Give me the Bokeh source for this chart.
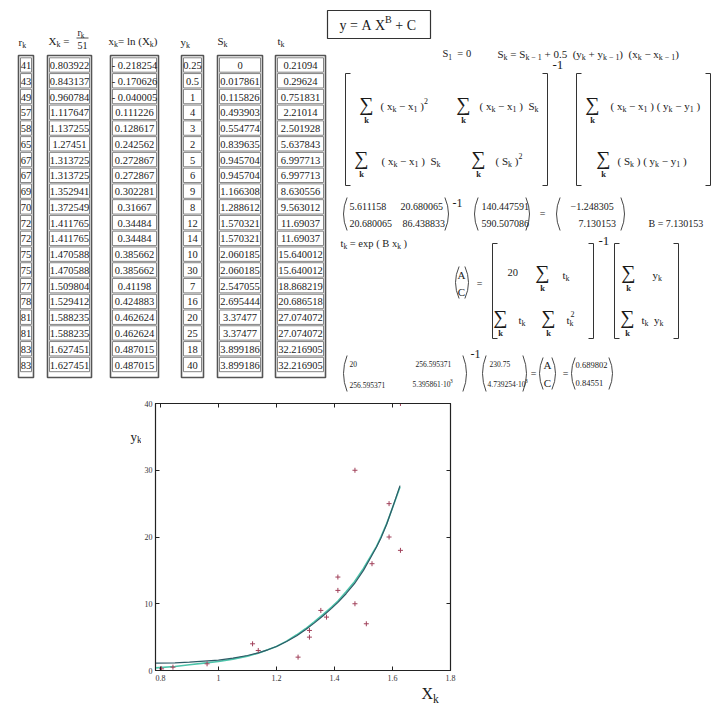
from bokeh.plotting import figure
from bokeh.models import (Range1d, ColumnDataSource, LinearAxis, FixedTicker,
                          NumeralTickFormatter, CustomJSTickFormatter, Spacer)
from bokeh.layouts import column, row
from bokeh.embed import file_html
from bokeh.resources import INLINE
from bokeh.core.properties import value, field

FONT = "Liberation Serif"

# ---------------- data ----------------
r_k = [41, 43, 49, 57, 58, 65, 67, 67, 69, 70, 72, 72, 75, 75, 77, 78, 81, 81, 83, 83]
X_k = ["0.803922", "0.843137", "0.960784", "1.117647", "1.137255", "1.27451", "1.313725",
       "1.313725", "1.352941", "1.372549", "1.411765", "1.411765", "1.470588", "1.470588",
       "1.509804", "1.529412", "1.588235", "1.588235", "1.627451", "1.627451"]
x_k = ["- 0.218254", "- 0.170626", "- 0.040005", "0.111226", "0.128617", "0.242562", "0.272867",
       "0.272867", "0.302281", "0.31667", "0.34484", "0.34484", "0.385662", "0.385662",
       "0.41198", "0.424883", "0.462624", "0.462624", "0.487015", "0.487015"]
y_k = [0.25, 0.5, 1, 4, 3, 2, 5, 6, 9, 8, 12, 14, 10, 30, 7, 16, 20, 25, 18, 40]
S_k = ["0", "0.017861", "0.115826", "0.493903", "0.554774", "0.839635", "0.945704", "0.945704",
       "1.166308", "1.288612", "1.570321", "1.570321", "2.060185", "2.060185", "2.547055",
       "2.695444", "3.37477", "3.37477", "3.899186", "3.899186"]
t_k = ["0.21094", "0.29624", "0.751831", "2.21014", "2.501928", "5.637843", "6.997713",
       "6.997713", "8.630556", "9.563012", "11.69037", "11.69037", "15.640012", "15.640012",
       "18.868219", "20.686518", "27.074072", "27.074072", "32.216905", "32.216905"]

# fitted curves
fit_x = [0.783, 0.85, 0.9, 0.95, 1.0, 1.05, 1.1, 1.137, 1.17, 1.2, 1.235, 1.27, 1.3, 1.33,
         1.361, 1.39, 1.412, 1.44, 1.469, 1.5, 1.526, 1.545, 1.56, 1.58, 1.597, 1.612, 1.626]
fit_dark = [1.1, 1.15, 1.25, 1.4, 1.55, 1.85, 2.25, 2.65, 3.1, 3.6, 4.35, 5.2, 6.1, 7.1,
            8.2, 9.3, 10.2, 11.5, 13.0, 15.0, 17.0, 18.5, 19.8, 21.9, 24.0, 25.9, 27.7]
fit_light = [0.4, 0.6, 0.85, 1.1, 1.35, 1.7, 2.15, 2.6, 3.1, 3.6, 4.4, 5.35, 6.25, 7.3,
             8.4, 9.5, 10.4, 11.8, 13.3, 15.3, 17.2, 18.6, 20.0, 22.0, 24.0, 25.8, 27.5]

x_ticks = [0.8, 1.0, 1.2, 1.4, 1.6, 1.8]
y_ticks = [0, 10, 20, 30, 40]

W = {'0': .5, '1': .5, '2': .5, '3': .5, '4': .5, '5': .5, '6': .5, '7': .5, '8': .5, '9': .5,
     '.': .25, ' ': .25, '=': .564, '+': .564, '-': .333, '−': .564, '(': .333, ')': .333,
     'X': .722, 'S': .556, 'x': .5, 'y': .5, 't': .278, 'r': .333, 'k': .5, 'l': .278,
     'n': .5, 'e': .444, 'p': .5, 'B': .667, 'A': .722, 'C': .667, '·': .25}
NB = "\u00a0"


def tw(s, size):
    return sum(W.get(c, .5) for c in s) * size


def new_texts():
    return dict(x=[], y=[], text=[], size=[], align=[], style=[])


TX = new_texts()


def T(x, y, s, size=10, align="left", style="normal", store=None):
    d = TX if store is None else store
    lead = len(s) - len(s.lstrip(" "))
    if align == "left":
        x = x + lead * 0.25 * size
    s = s.strip(" ").replace(" ", NB)
    if not s:
        return
    d['x'].append(x); d['y'].append(y); d['text'].append(s)
    d['size'].append(f"{size}px"); d['align'].append(align); d['style'].append(style)


def rich(x, y, segs, size=10, store=None):
    cx = x
    for s, kind in segs:
        if kind == "n":
            T(cx, y, s, size, store=store); cx += tw(s, size)
        elif kind == "s":
            ss = size * 0.72
            T(cx, y + size * 0.32, s, ss, store=store); cx += tw(s, ss)
        else:
            ss = size * 0.72
            T(cx, y - size * 0.42, s, ss, store=store); cx += tw(s, ss)
    return cx


def sigma(xc, yc):
    T(xc, yc, "∑", 20, "center")
    T(xc, yc + 16, "k", 8.5, "center", "bold")


BR = dict(xs=[], ys=[])


def bracket(x, y0, y1, left=True, serif=5):
    d = serif if left else -serif
    BR['xs'].append([x + d, x, x, x + d]); BR['ys'].append([y0, y0, y1, y1])


PA = dict(x0=[], y0=[], x1=[], y1=[], cx=[], cy=[])


def paren(x, y0, y1, left=True, bulge=6):
    d = bulge if left else -bulge
    PA['x0'].append(x + d * 0.6); PA['y0'].append(y0)
    PA['x1'].append(x + d * 0.6); PA['y1'].append(y1)
    PA['cx'].append(x - d * 0.6); PA['cy'].append((y0 + y1) / 2)


def plain_fig(w, h, xr, yr):
    f = figure(width=w, height=h, x_range=Range1d(*xr), y_range=Range1d(*yr),
               output_backend="svg", toolbar_location=None, min_border=0,
               x_axis_location=None, y_axis_location=None)
    f.grid.visible = False
    f.outline_line_color = None
    return f


def draw_texts(f, d):
    f.text(x="x", y="y", text="text", source=ColumnDataSource(d),
           text_font=value(FONT), text_font_size=field("size"), text_align=field("align"),
           text_font_style=field("style"), text_baseline="middle", text_color="#1a1a1a")


# ---------------- worksheet (top figure) ----------------
top = plain_fig(716, 395, (0, 716), (395, 0))

cols = [(18, 33), (47, 91), (110, 158), (181, 203), (217, 262), (275, 325)]
vals = [[str(v) for v in r_k], X_k, x_k, [("%g" % v) for v in y_k], S_k, t_k]
pitch = (364 - 64.5) / 19
OUT = dict(l=[], r=[], t=[], b=[])
CELL = dict(l=[], r=[], t=[], b=[])
for (l, r), cv in zip(cols, vals):
    OUT['l'].append(l); OUT['r'].append(r); OUT['t'].append(55); OUT['b'].append(377)
    for i, s in enumerate(cv):
        yc = 64.5 + i * pitch
        CELL['l'].append(l + 2); CELL['r'].append(r - 2)
        CELL['t'].append(yc - 7.2); CELL['b'].append(yc + 7.2)
        T((l + r) / 2, yc + 0.5, s, 10.5, "center")

# headers
rich(18, 41, [("r", "n"), ("k", "s")], 11)
rich(48, 40, [("X", "n"), ("k", "s"), (" =", "n")], 11)
rich(77, 32, [("r", "n"), ("k", "s")], 10)
FRAC = dict(x0=[76], x1=[88], y0=[37.5], y1=[37.5])
T(77, 45, "51", 10)
rich(108, 40, [("x", "n"), ("k", "s"), ("= ln (X", "n"), ("k", "s"), (")", "n")], 11)
rich(180, 41, [("y", "n"), ("k", "s")], 11)
rich(217, 40, [("S", "n"), ("k", "s")], 11)
rich(277, 40, [("t", "n"), ("k", "s")], 11)

# title box
BOX = dict(l=[327], r=[430], t=[10], b=[38])
rich(339, 25, [("y = A X", "n"), ("B", "p"), (" + C", "n")], 14)

# S formulas
rich(442, 53, [("S", "n"), ("1", "s"), ("  = 0", "n")], 10.5)
rich(497, 53, [("S", "n"), ("k", "s"), (" = S", "n"), ("k − 1", "s"), (" + 0.5  (y", "n"),
               ("k", "s"), (" + y", "n"), ("k − 1", "s"), (")  (x", "n"), ("k", "s"),
               (" − x", "n"), ("k − 1", "s"), (")", "n")], 11)

# first matrix equation
FS = 11
bracket(345, 73, 185, True); bracket(547, 73, 185, False)
T(552, 64, "-1", 13)
sigma(366, 103); rich(380, 105, [("( x", "n"), ("k", "s"), (" − x", "n"), ("1", "s"), (" )", "n"), ("2", "p")], FS)
sigma(463, 103); rich(479, 105, [("( x", "n"), ("k", "s"), (" − x", "n"), ("1", "s"), (" )  S", "n"), ("k", "s")], FS)
sigma(361, 157); rich(381, 160, [("( x", "n"), ("k", "s"), (" − x", "n"), ("1", "s"), (" )  S", "n"), ("k", "s")], FS)
sigma(478, 157); rich(495, 160, [("( S", "n"), ("k", "s"), (" )", "n"), ("2", "p")], FS)
bracket(576, 73, 185, True); bracket(710, 73, 185, False)
sigma(592, 103); rich(610, 105, [("( x", "n"), ("k", "s"), (" − x", "n"), ("1", "s"), (" ) ( y", "n"),
                                 ("k", "s"), (" − y", "n"), ("1", "s"), (" )", "n")], FS)
sigma(603, 157); rich(617, 160, [("( S", "n"), ("k", "s"), (" ) ( y", "n"), ("k", "s"), (" − y", "n"),
                                 ("1", "s"), (" )", "n")], FS)

# numeric matrix row
paren(343, 197, 230, True); paren(448, 197, 230, False)
T(452, 202, "-1", 12)
T(349, 206, "5.611158"); T(400, 206, "20.680065")
T(349, 223, "20.680065"); T(402, 223, "86.438833")
paren(474, 197, 230, True); paren(529, 197, 230, False)
T(481, 206, "140.447591"); T(481, 223, "590.507086")
T(542, 213, "=", 10, "center")
paren(556, 197, 230, True); paren(624, 197, 230, False)
T(570, 206, "−1.248305"); T(578, 223, "7.130153")
T(648, 223, "B = 7.130153")

# t_k and A, C
rich(340, 243, [("t", "n"), ("k", "s"), (" = exp ( B x", "n"), ("k", "s"), (" )", "n")], 10.5)
paren(455, 266, 298, True); paren(468, 266, 298, False)
T(461, 274, "A", 11, "center"); T(461, 291, "C", 11, "center")
T(479, 283, "=", 10, "center")
bracket(492, 243, 338, True); bracket(593, 243, 338, False)
T(598, 240, "-1", 13)
T(507, 272, "20", 10.5)
sigma(542, 271); rich(562, 274, [("t", "n"), ("k", "s")], FS)
sigma(500, 316); rich(518, 319, [("t", "n"), ("k", "s")], FS)
sigma(548, 316); rich(566, 319, [("t", "n"), ("k", "s")], FS)
T(566 + tw("t", FS) + 1, 313, "2", 8)
bracket(614, 243, 338, True); bracket(678, 243, 338, False)
sigma(628, 271); rich(652, 274, [("y", "n"), ("k", "s")], FS)
sigma(627, 316); rich(641, 319, [("t", "n"), ("k", "s"), ("  y", "n"), ("k", "s")], FS)

# last numeric row
BS = 7.5
paren(343, 355, 391, True); paren(466, 355, 391, False)
T(470, 353, "-1", 12)
T(349, 363, "20", BS); T(415, 363, "256.595371", BS)
T(349, 384, "256.595371", BS); rich(412, 384, [("5.395861·10", "n"), ("3", "p")], BS)
paren(482, 355, 391, True); paren(526, 355, 391, False)
T(489, 363, "230.75", BS); rich(487, 384, [("4.739254·10", "n"), ("3", "p")], BS)
T(533, 373, "=", 10, "center")
paren(539, 357, 389, True); paren(555, 357, 389, False)
T(547, 364, "A", 11, "center"); T(547, 382, "C", 11, "center")
T(565, 373, "=", 10, "center")
paren(571, 357, 389, True); paren(612, 357, 389, False)
T(575, 364, "0.689802", 8.5); T(575, 382, "0.84551", 8.5)

top.quad(left="l", right="r", top="t", bottom="b", source=ColumnDataSource(OUT),
         fill_color=None, line_color="#555555", line_width=1.6)
top.quad(left="l", right="r", top="t", bottom="b", source=ColumnDataSource(CELL),
         fill_color=None, line_color="#777777", line_width=0.9)
top.quad(left="l", right="r", top="t", bottom="b", source=ColumnDataSource(BOX),
         fill_color=None, line_color="#333333", line_width=1.2)
top.segment(x0="x0", y0="y0", x1="x1", y1="y1", source=ColumnDataSource(FRAC),
            line_color="#222222", line_width=0.8)
top.multi_line(xs="xs", ys="ys", source=ColumnDataSource(BR), line_color="#333333", line_width=1)
top.quadratic(x0="x0", y0="y0", x1="x1", y1="y1", cx="cx", cy="cy",
              source=ColumnDataSource(PA), line_color="#333333", line_width=0.9)
draw_texts(top, TX)

# ---------------- chart ----------------
X_vals = [float(v) for v in X_k]

ch = figure(width=319, height=291, x_range=Range1d(0.783, 1.8), y_range=Range1d(0, 40),
            output_backend="svg", toolbar_location=None,
            x_axis_location=None, y_axis_location=None,
            min_border_left=14, min_border_right=10, min_border_top=8, min_border_bottom=16)
ch.grid.visible = False
ch.outline_line_color = "#222222"
ch.outline_line_width = 1.2
ch.background_fill_color = "white"

blank = CustomJSTickFormatter(code="return '';")
ax_b = LinearAxis(ticker=FixedTicker(ticks=x_ticks), formatter=NumeralTickFormatter(format="0.[0]"),
                  major_label_text_font_size="8px", major_label_standoff=4)
ax_l = LinearAxis(ticker=FixedTicker(ticks=y_ticks), major_label_text_font_size="8px",
                  major_label_standoff=3)
ax_t = LinearAxis(ticker=FixedTicker(ticks=x_ticks), formatter=blank, major_label_standoff=0)
ax_r = LinearAxis(ticker=FixedTicker(ticks=y_ticks), formatter=blank, major_label_standoff=0)
ch.add_layout(ax_b, "below")
ch.add_layout(ax_l, "left")
ch.add_layout(ax_t, "above")
ch.add_layout(ax_r, "right")
for ax in (ax_b, ax_l, ax_t, ax_r):
    ax.major_tick_in = 4
    ax.major_tick_out = 0
    ax.minor_tick_line_color = None
    ax.axis_line_color = "#222222"
    ax.major_tick_line_color = "#222222"
    ax.major_label_text_font = FONT
    ax.major_label_text_color = "#333333"

ch.line(fit_x, fit_light, line_color="#4cc4aa", line_width=1.6)
ch.line(fit_x, fit_dark, line_color="#2e5a66", line_width=1.2)
ch.scatter(X_vals, y_k, marker="cross", size=5, line_color="#a0405a", line_width=1)

# axis titles in small companion figures (page pixel coordinates)
yfig = plain_fig(26, 291, (115, 141), (686, 395))
YT = new_texts()
rich(130, 431, [("y", "n"), ("k", "s")], 13, store=YT)
draw_texts(yfig, YT)

xfig = plain_fig(345, 20, (115, 460), (706, 686))
XT = new_texts()
rich(421, 693, [("X", "n"), ("k", "s")], 16, store=XT)
draw_texts(xfig, XT)

layout = column(top, row(Spacer(width=115, height=311), column(row(yfig, ch), xfig)))
open("out.html", "w").write(file_html(layout, INLINE))
